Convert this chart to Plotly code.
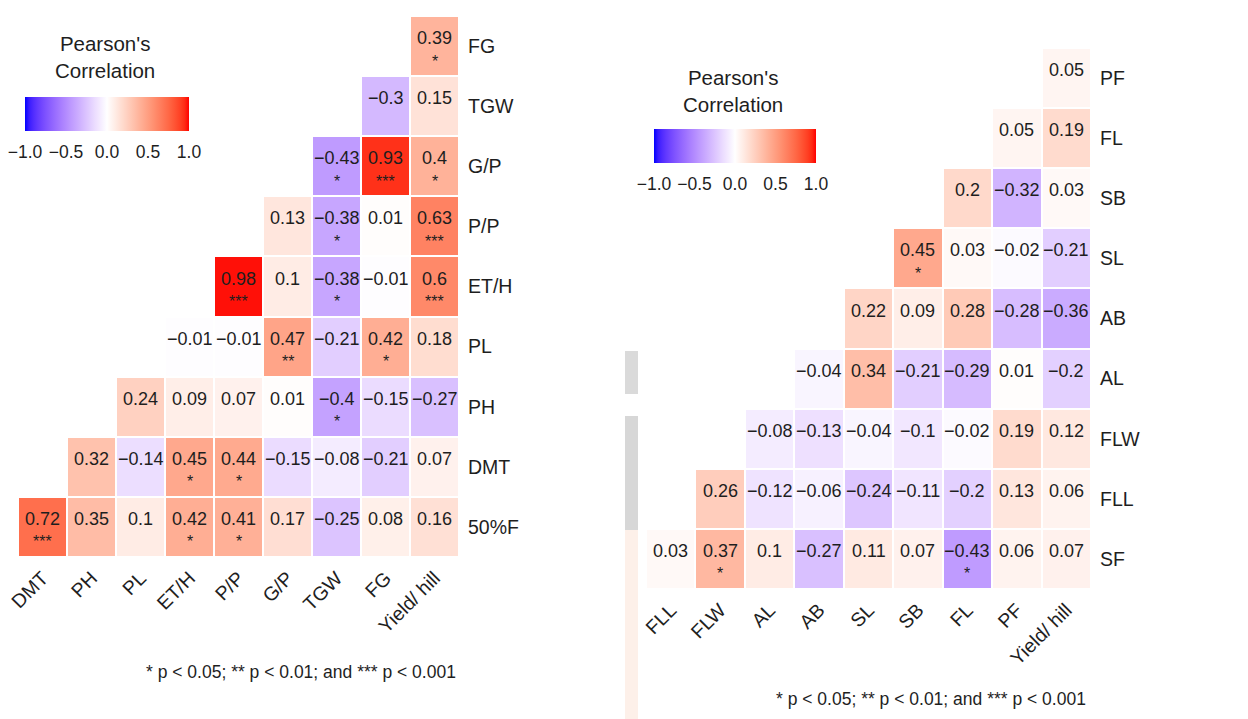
import plotly.graph_objects as go

N = None
# ---------------- Left panel data ----------------
L_COLS = ["DMT", "PH", "PL", "ET/H", "P/P", "G/P", "TGW", "FG", "Yield/ hill"]
L_ROWS = ["FG", "TGW", "G/P", "P/P", "ET/H", "PL", "PH", "DMT", "50%F"]  # top -> bottom
L_VALUES = [
    [N, N, N, N, N, N, N, N, 0.39],
    [N, N, N, N, N, N, N, -0.3, 0.15],
    [N, N, N, N, N, N, -0.43, 0.93, 0.4],
    [N, N, N, N, N, 0.13, -0.38, 0.01, 0.63],
    [N, N, N, N, 0.98, 0.1, -0.38, -0.01, 0.6],
    [N, N, N, -0.01, -0.01, 0.47, -0.21, 0.42, 0.18],
    [N, N, 0.24, 0.09, 0.07, 0.01, -0.4, -0.15, -0.27],
    [N, 0.32, -0.14, 0.45, 0.44, -0.15, -0.08, -0.21, 0.07],
    [0.72, 0.35, 0.1, 0.42, 0.41, 0.17, -0.25, 0.08, 0.16],
]
L_STARS = [
    ["", "", "", "", "", "", "", "", "*"],
    ["", "", "", "", "", "", "", "", ""],
    ["", "", "", "", "", "", "*", "***", "*"],
    ["", "", "", "", "", "", "*", "", "***"],
    ["", "", "", "", "***", "", "*", "", "***"],
    ["", "", "", "", "", "**", "", "*", ""],
    ["", "", "", "", "", "", "*", "", ""],
    ["", "", "", "*", "*", "", "", "", ""],
    ["***", "", "", "*", "*", "", "", "", ""],
]

# ---------------- Right panel data ----------------
R_COLS = ["FLL", "FLW", "AL", "AB", "SL", "SB", "FL", "PF", "Yield/ hill"]
R_ROWS = ["PF", "FL", "SB", "SL", "AB", "AL", "FLW", "FLL", "SF"]  # top -> bottom
R_VALUES = [
    [N, N, N, N, N, N, N, N, 0.05],
    [N, N, N, N, N, N, N, 0.05, 0.19],
    [N, N, N, N, N, N, 0.2, -0.32, 0.03],
    [N, N, N, N, N, 0.45, 0.03, -0.02, -0.21],
    [N, N, N, N, 0.22, 0.09, 0.28, -0.28, -0.36],
    [N, N, N, -0.04, 0.34, -0.21, -0.29, 0.01, -0.2],
    [N, N, -0.08, -0.13, -0.04, -0.1, -0.02, 0.19, 0.12],
    [N, 0.26, -0.12, -0.06, -0.24, -0.11, -0.2, 0.13, 0.06],
    [0.03, 0.37, 0.1, -0.27, 0.11, 0.07, -0.43, 0.06, 0.07],
]
R_STARS = [
    ["", "", "", "", "", "", "", "", ""],
    ["", "", "", "", "", "", "", "", ""],
    ["", "", "", "", "", "", "", "", ""],
    ["", "", "", "", "", "*", "", "", ""],
    ["", "", "", "", "", "", "", "", ""],
    ["", "", "", "", "", "", "", "", ""],
    ["", "", "", "", "", "", "", "", ""],
    ["", "", "", "", "", "", "", "", ""],
    ["", "*", "", "", "", "", "*", "", ""],
]

CB_TICKS = [-1.0, -0.5, 0.0, 0.5, 1.0]
CB_TICKTEXT = ["\u22121.0", "\u22120.5", "0.0", "0.5", "1.0"]
LEGEND_TITLE = "Pearson's<br>Correlation"
CAPTION = "* p < 0.05; ** p < 0.01; and *** p < 0.001"

# page body has an 8px default margin; figure fills the rest of the 1248x719 window
OFF = 8
W, H = 1248 - OFF, 719 - OFF
FONT = "Liberation Sans, Arial, sans-serif"
TXT = "#1e1e1e"


def px(xp):
    return (xp - OFF) / W


def py(yp):
    return 1 - (yp - OFF) / H


# ---------------- Lab-interpolated blue-white-red scale (like ggplot gradient2) ----------------
def _lin(c):
    c = c / 255.0
    return c / 12.92 if c <= 0.04045 else ((c + 0.055) / 1.055) ** 2.4


def _gam(c):
    c = 12.92 * c if c <= 0.0031308 else 1.055 * c ** (1 / 2.4) - 0.055
    return max(0, min(255, round(c * 255)))


WP = (0.95047, 1.0, 1.08883)


def rgb2lab(rgb):
    r, g, b = [_lin(v) for v in rgb]
    X = 0.4124 * r + 0.3576 * g + 0.1805 * b
    Y = 0.2126 * r + 0.7152 * g + 0.0722 * b
    Z = 0.0193 * r + 0.1192 * g + 0.9505 * b
    def f(t):
        return t ** (1 / 3) if t > 0.008856 else 7.787 * t + 16 / 116
    fx, fy, fz = f(X / WP[0]), f(Y / WP[1]), f(Z / WP[2])
    return (116 * fy - 16, 500 * (fx - fy), 200 * (fy - fz))


def lab2rgb(lab):
    L, a, b = lab
    fy = (L + 16) / 116
    fx = fy + a / 500
    fz = fy - b / 200
    def fi(t):
        return t ** 3 if t ** 3 > 0.008856 else (t - 16 / 116) / 7.787
    X, Y, Z = fi(fx) * WP[0], fi(fy) * WP[1], fi(fz) * WP[2]
    r = 3.2406 * X - 1.5372 * Y - 0.4986 * Z
    g = -0.9689 * X + 1.8758 * Y + 0.0415 * Z
    bb = 0.0557 * X - 0.2040 * Y + 1.0570 * Z
    return tuple(_gam(max(0.0, v)) for v in (r, g, bb))


LOW, MID, HIGH = rgb2lab((0, 0, 255)), rgb2lab((255, 255, 255)), rgb2lab((255, 0, 0))
colorscale = []
NSTOP = 40
for k in range(NSTOP + 1):
    t = k / NSTOP
    v = -1 + 2 * t
    end = LOW if v < 0 else HIGH
    f = abs(v)
    lab = tuple(MID[i] + (end[i] - MID[i]) * f for i in range(3))
    colorscale.append([t, "rgb(%d,%d,%d)" % lab2rgb(lab)])


def fmt(v):
    s = f"{v:g}"
    return s.replace("-", "\u2212")


fig = go.Figure()

panels = [
    dict(cols=L_COLS, rows=L_ROWS, vals=L_VALUES, stars=L_STARS, xa="x", ya="y",
         xdom=(18, 459), ydom=(16, 557),
         cb_x=107, cb_top=97, cb_len=164,
         title_xy=(105, 57), cap_xy=(458, 672)),
    dict(cols=R_COLS, rows=R_ROWS, vals=R_VALUES, stars=R_STARS, xa="x2", ya="y2",
         xdom=(646, 1091), ydom=(48, 589),
         cb_x=735, cb_top=129, cb_len=162,
         title_xy=(733, 91), cap_xy=(1088, 699)),
]

annotations = []
for p in panels:
    nx, ny = len(p["cols"]), len(p["rows"])
    fig.add_trace(go.Heatmap(
        z=p["vals"], x=list(range(nx)), y=list(range(ny)),
        xaxis=p["xa"], yaxis=p["ya"],
        zmin=-1, zmax=1, colorscale=colorscale,
        xgap=2, ygap=2, hoverongaps=False,
        colorbar=dict(
            orientation="h", x=px(p["cb_x"]), xanchor="center",
            y=py(p["cb_top"]), yanchor="top",
            len=p["cb_len"], lenmode="pixels", thickness=34,
            xpad=0, ypad=0, outlinewidth=0,
            tickvals=CB_TICKS, ticktext=CB_TICKTEXT,
            ticks="outside", ticklen=6, tickcolor="rgba(0,0,0,0)",
            ticklabeloverflow="allow",
            tickfont=dict(size=17.5, color=TXT, family=FONT),
        ),
    ))
    for i in range(ny):
        for j in range(nx):
            v = p["vals"][i][j]
            if v is None:
                continue
            annotations.append(dict(
                x=j, y=i, xref=p["xa"], yref=p["ya"], text=fmt(v), showarrow=False,
                yshift=8, font=dict(size=18, color=TXT, family=FONT)))
            s = p["stars"][i][j]
            if s:
                annotations.append(dict(
                    x=j, y=i, xref=p["xa"], yref=p["ya"], text=s, showarrow=False,
                    yshift=-15, font=dict(size=16, color=TXT, family=FONT)))
    tx, ty = p["title_xy"]
    annotations.append(dict(
        x=px(tx), y=py(ty), xref="paper", yref="paper", text=LEGEND_TITLE,
        showarrow=False, xanchor="center", yanchor="middle",
        font=dict(size=20.5, color=TXT, family=FONT)))
    cx, cy = p["cap_xy"]
    annotations.append(dict(
        x=px(cx), y=py(cy), xref="paper", yref="paper", text=CAPTION,
        showarrow=False, xanchor="right", yanchor="middle",
        font=dict(size=17.5, color=TXT, family=FONT)))

axis_common = dict(showgrid=False, zeroline=False, showline=False, ticks="",
                   ticklabeloverflow="allow",
                   tickfont=dict(size=19.5, color=TXT, family=FONT))

layout_axes = {}
for idx, p in enumerate(panels):
    sfx = "" if idx == 0 else str(idx + 1)
    nx, ny = len(p["cols"]), len(p["rows"])
    layout_axes["xaxis" + sfx] = dict(
        axis_common, domain=[px(p["xdom"][0]), px(p["xdom"][1])],
        range=[-0.5, nx - 0.5], tickvals=list(range(nx)), ticktext=p["cols"],
        tickangle=-45, anchor="y" + sfx, ticklabelstandoff=5, fixedrange=True)
    layout_axes["yaxis" + sfx] = dict(
        axis_common, domain=[py(p["ydom"][1]), py(p["ydom"][0])],
        range=[ny - 0.5, -0.5], tickvals=list(range(ny)), ticktext=p["rows"],
        side="right", anchor="x" + sfx, ticklabelstandoff=8, fixedrange=True)

shapes = [
    dict(type="rect", xref="paper", yref="paper", x0=px(625), x1=px(638),
         y0=py(394), y1=py(351), fillcolor="#dadada", line=dict(width=0), layer="below"),
    dict(type="rect", xref="paper", yref="paper", x0=px(625), x1=px(638),
         y0=py(530), y1=py(416), fillcolor="#d7d7d7", line=dict(width=0), layer="below"),
    dict(type="rect", xref="paper", yref="paper", x0=px(625), x1=px(638),
         y0=0, y1=py(530), fillcolor="#fdf0e9", line=dict(width=0), layer="below"),
]

fig.update_layout(
    width=W, height=H, margin=dict(l=0, r=0, t=0, b=0, autoexpand=False),
    paper_bgcolor="white", plot_bgcolor="white",
    annotations=annotations, shapes=shapes, showlegend=False,
    font=dict(family=FONT, color=TXT),
    **layout_axes,
)

fig.write_html("out.html")
